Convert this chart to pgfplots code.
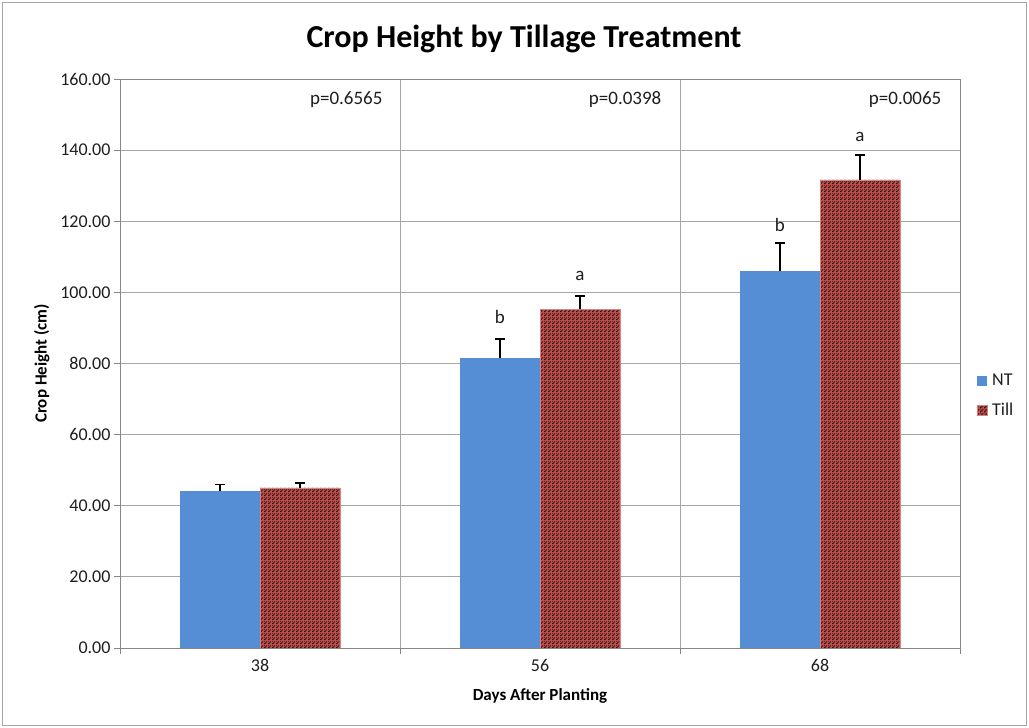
\documentclass[border=0pt]{standalone}
\usepackage{pgfplots}
\pgfplotsset{compat=1.18}
\usepackage{fontspec}
\setmainfont{Carlito}
\usetikzlibrary{patterns.meta}
\definecolor{ntblue}{RGB}{85,142,213}
\definecolor{tillred}{RGB}{192,80,77}
\definecolor{tilldark}{RGB}{45,18,18}
\definecolor{gridgray}{RGB}{166,166,166}
\definecolor{axisgray}{RGB}{134,134,134}
\definecolor{txt}{RGB}{30,30,30}
\tikzdeclarepattern{
  name=stairs, type=uncolored,
  bottom left={(0bp,0bp)}, top right={(4bp,4bp)}, tile size={(4bp,4bp)},
  code={
    \fill (0bp,0bp) rectangle (2bp,1bp);
    \fill (1bp,1bp) rectangle (3bp,2bp);
    \fill (2bp,2bp) rectangle (4bp,3bp);
    \fill (3bp,3bp) rectangle (4bp,4bp);
    \fill (0bp,3bp) rectangle (1bp,4bp);
  }
}
\pgfplotstableread{
x y err
0 44.1 1.9
1 81.5 5.4
2 106.0 7.9
}\ntdata
\pgfplotstableread{
x y err
0 45.0 1.3
1 95.2 3.8
2 131.6 7.0
}\tilldata
\begin{document}
\begin{tikzpicture}
\path[use as bounding box] (0,0) rectangle (1029bp,728bp);
\draw[gray!70, line width=1bp] (2.5bp,2.5bp) rectangle (1026.5bp,725.5bp);
\node[font=\fontsize{32bp}{38bp}\selectfont\bfseries] at (524bp,689bp) {Crop Height by Tillage Treatment};
\begin{axis}[
  at={(120bp,80bp)}, anchor=south west,
  width=840bp, height=569bp, scale only axis,
  ymin=0, ymax=160, ytick distance=20,
  xmin=-0.5, xmax=2.5,
  xtick={0,1,2}, xticklabels={38,56,68},
  minor xtick={-0.5,0.5,1.5,2.5},
  every major x tick/.style={draw=none},
  tick align=outside, tick pos=left,
  major tick length=6bp, minor tick length=6bp,
  ymajorgrids, xminorgrids,
  grid style={gridgray, line width=0.8bp},
  minor grid style={gridgray, line width=0.8bp},
  axis line style={axisgray, line width=0.8bp},
  every tick/.style={axisgray, line width=0.8bp},
  /pgf/number format/assume math mode=true,
  yticklabel style={/pgf/number format/.cd, fixed, fixed zerofill, precision=2},
  tick label style={font=\fontsize{18bp}{21bp}\selectfont, text=txt},
  xticklabel style={yshift=-2bp},
  xlabel={Days After Planting},
  ylabel={Crop Height (cm)},
  xlabel style={font=\fontsize{17bp}{20bp}\selectfont\bfseries, yshift=-10bp},
  ylabel style={font=\fontsize{17bp}{20bp}\selectfont\bfseries, yshift=4bp},
  ybar=0pt, bar width=80bp,
  error bars/y dir=plus, error bars/y explicit,
  error bars/error bar style={black, line width=1.8bp},
  error bars/error mark options={rotate=90, mark size=5bp, line width=1.8bp, black},
  legend style={at={(1.016,0.443)}, anchor=west, draw=none, fill=none,
    font=\fontsize{18bp}{21bp}\selectfont, row sep=12bp, text=txt,
    /tikz/every odd column/.append style={column sep=3bp}},
  legend cell align=left,
  legend image code/.code={\fill[#1] (0bp,-5bp) rectangle (10bp,5bp);},
]
\addplot[fill=ntblue, draw=none] table[x=x, y=y, y error=err] {\ntdata};
\addplot[fill=tillred, draw=tillred!70!white, line width=0.5bp,
  postaction={pattern=stairs, pattern color=tilldark}]
  table[x=x, y=y, y error=err] {\tilldata};
\legend{NT, Till}
\begin{scope}[font=\fontsize{19bp}{22bp}\selectfont, text=txt]
\node at (axis cs:0.857,93.2) {b};
\node at (axis cs:1.143,104.6) {a};
\node at (axis cs:1.857,119.0) {b};
\node at (axis cs:2.143,143.7) {a};
\node[anchor=east] at (axis cs:0.45,154.1) {p=0.6565};
\node[anchor=east] at (axis cs:1.446,154.1) {p=0.0398};
\node[anchor=east] at (axis cs:2.446,154.1) {p=0.0065};
\end{scope}
\end{axis}
\end{tikzpicture}
\end{document}
